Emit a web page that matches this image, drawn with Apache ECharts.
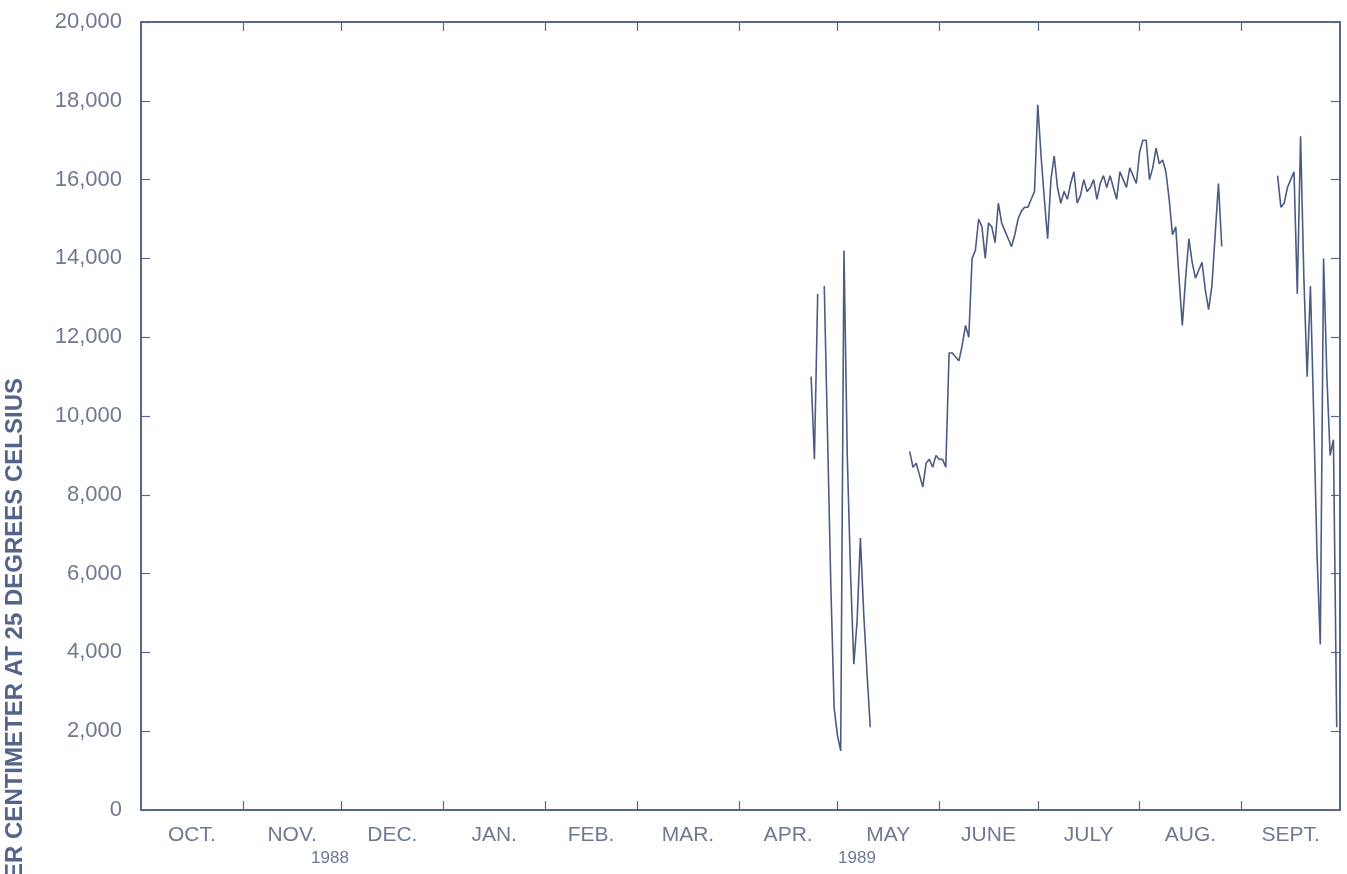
<!DOCTYPE html>
<html>
<head>
<meta charset="utf-8">
<title>Specific conductance, water year 1989</title>
<script src="https://cdn.jsdelivr.net/npm/echarts@6/dist/echarts.min.js"></script>
<style>
  html, body { margin: 0; padding: 0; background: #ffffff; }
  #chart { width: 1347px; height: 874px; }
</style>
</head>
<body>
<div id="chart"></div>
<script>
// Water year runs 1988-10-01 through 1989-09-30; x is measured in days from its start.
const waterYearStart = '1988-10-01';
const waterYearDays = 365;

// Month boundaries (days from Oct 1) and the month names shown under each interval
const monthStarts = [0, 31, 61, 92, 123, 151, 182, 212, 243, 273, 304, 335, 365];
const monthNames = ['OCT.', 'NOV.', 'DEC.', 'JAN.', 'FEB.', 'MAR.', 'APR.', 'MAY', 'JUNE', 'JULY', 'AUG.', 'SEPT.'];
const yearLabels = ['1988', '1989'];

// Y axis ticks
const yMin = 0;
const yMax = 20000;
const yStep = 2000;

// Daily specific conductance (µS/cm at 25 °C); null = no record for that day
const aprMayStart = '1989-04-23';
const aprMayValues = [11000, 8900, 13100, null, 13300, 9500, 5700, 2600, 1900, 1500,
  14200, 9000, 6000, 3700, 4800, 6900, 5000, 3500, 2100];

const summerStart = '1989-05-23';
const summerValues = [
  9100, 8700, 8800, 8500, 8200, 8800, 8900, 8700, 9000, 8900,
  8900, 8700, 11600, 11600, 11500, 11400, 11800, 12300, 12000, 14000,
  14200, 15000, 14800, 14000, 14900, 14800, 14400, 15400, 14900, 14700,
  14500, 14300, 14600, 15000, 15200, 15300, 15300, 15500, 15700, 17900,
  16600, 15500, 14500, 16000, 16600, 15800, 15400, 15700, 15500, 15900,
  16200, 15400, 15600, 16000, 15700, 15800, 16000, 15500, 15900, 16100,
  15800, 16100, 15800, 15500, 16200, 16000, 15800, 16300, 16100, 15900,
  16700, 17000, 17000, 16000, 16300, 16800, 16400, 16500, 16200, 15500,
  14600, 14800, 13500, 12300, 13500, 14500, 13900, 13500, 13700, 13900,
  13200, 12700, 13300, 14600, 15900, 14300];

const septStart = '1989-09-12';
const septValues = [16100, 15300, 15400, 15800, 16000, 16200, 13100, 17100, 13500, 11000,
  13300, 10000, 6500, 4200, 14000, 11000, 9000, 9400, 2100];

const axisColor = '#5a6888';
const lineColor = '#4b5b82';
const labelColor = '#6f7990';
const fontFamily = '"Liberation Sans", Arial, sans-serif';

function dayOf(dateStr) {
  return Math.round((Date.parse(dateStr + 'T00:00:00Z') - Date.parse(waterYearStart + 'T00:00:00Z')) / 86400000);
}

function toPairs(startStr, values) {
  const d0 = dayOf(startStr);
  return values.map((v, i) => [d0 + i, v == null ? '-' : v]);
}

const monthMids = monthNames.map((_, i) => (monthStarts[i] + monthStarts[i + 1]) / 2);
const innerTicks = monthStarts.slice(1, -1);
const midLookup = {};
monthMids.forEach((m, i) => { midLookup[m] = monthNames[i]; });

function lineSeries(name, data) {
  return {
    name: name,
    type: 'line',
    data: data,
    showSymbol: false,
    connectNulls: false,
    silent: true,
    animation: false,
    lineStyle: { color: lineColor, width: 1.6 },
    xAxisIndex: 0,
    yAxisIndex: 0
  };
}

// Frame axis: line on its own edge of the grid, short inward ticks
function frameAxisLine() {
  return { show: true, onZero: false, lineStyle: { color: axisColor, width: 2 } };
}

const chart = echarts.init(document.getElementById('chart'), null, { renderer: 'canvas' });

chart.setOption({
  backgroundColor: '#ffffff',
  animation: false,
  grid: { left: 141, right: 7, top: 22, bottom: 64, containLabel: false },
  xAxis: [
    {
      type: 'value',
      position: 'bottom',
      min: 0,
      max: waterYearDays,
      splitLine: { show: false },
      axisLine: frameAxisLine(),
      axisTick: { show: true, inside: true, length: 9, customValues: innerTicks,
        lineStyle: { color: axisColor, width: 1.2 } },
      axisLabel: {
        show: true,
        customValues: monthMids,
        formatter: v => midLookup[v] || '',
        color: labelColor,
        fontFamily: fontFamily,
        fontSize: 21,
        margin: 15
      }
    },
    {
      type: 'value',
      position: 'top',
      min: 0,
      max: waterYearDays,
      splitLine: { show: false },
      axisLine: frameAxisLine(),
      axisTick: { show: true, inside: true, length: 9, customValues: innerTicks,
        lineStyle: { color: axisColor, width: 1.2 } },
      axisLabel: { show: false }
    }
  ],
  yAxis: [
    {
      type: 'value',
      position: 'left',
      min: yMin,
      max: yMax,
      interval: yStep,
      splitLine: { show: false },
      axisLine: frameAxisLine(),
      axisTick: { show: true, inside: true, length: 9, lineStyle: { color: axisColor, width: 1.2 } },
      axisLabel: {
        color: labelColor,
        fontFamily: fontFamily,
        fontSize: 22,
        margin: 19,
        formatter: v => v.toLocaleString('en-US')
      }
    },
    {
      type: 'value',
      position: 'right',
      min: yMin,
      max: yMax,
      interval: yStep,
      splitLine: { show: false },
      axisLine: frameAxisLine(),
      axisTick: { show: true, inside: true, length: 9, lineStyle: { color: axisColor, width: 1.2 } },
      axisLabel: { show: false }
    }
  ],
  series: [
    lineSeries('Apr-May', toPairs(aprMayStart, aprMayValues)),
    lineSeries('May-Aug', toPairs(summerStart, summerValues)),
    lineSeries('Sept', toPairs(septStart, septValues))
  ],
  graphic: [
    {
      type: 'text',
      x: 15,
      y: 378,
      rotation: Math.PI / 2,
      style: {
        text: 'SPECIFIC CONDUCTANCE, IN MICROSIEMENS PER CENTIMETER AT 25 DEGREES CELSIUS',
        fill: '#55648a',
        font: 'bold 24px ' + fontFamily,
        textAlign: 'right',
        textVerticalAlign: 'middle'
      }
    },
    {
      type: 'text',
      x: 330,
      y: 858,
      style: { text: yearLabels[0], fill: labelColor, font: '17px ' + fontFamily,
        textAlign: 'center', textVerticalAlign: 'middle' }
    },
    {
      type: 'text',
      x: 857,
      y: 858,
      style: { text: yearLabels[1], fill: labelColor, font: '17px ' + fontFamily,
        textAlign: 'center', textVerticalAlign: 'middle' }
    }
  ]
});
</script>
</body>
</html>
